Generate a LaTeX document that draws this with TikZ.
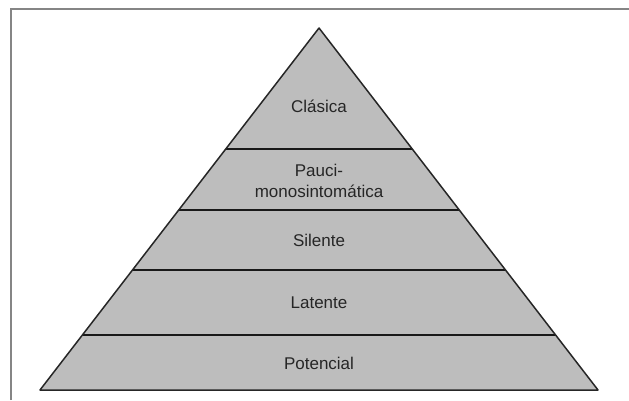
\documentclass[tikz,border=0pt]{standalone}
\usepackage{fontspec}
\setmainfont{Liberation Sans}
\definecolor{pyrfill}{gray}{0.74}
\definecolor{framegray}{gray}{0.52}
\begin{document}
\begin{tikzpicture}[x=1pt,y=-1pt,
  label/.style={font=\fontsize{17pt}{21pt}\selectfont, text=black!85, align=center, inner sep=0pt},
  layerline/.style={line width=2.6pt, black!90},
  outline/.style={line width=1.5pt, black!85, line join=round},
  framestyle/.style={line width=2pt, framegray}]
\useasboundingbox (0,0) rectangle (629,400);
% frame (only left and top edges visible)
\draw[framestyle] (11,400) -- (11,9) -- (629,9);
% pyramid
\coordinate (apex) at (319,28);
\coordinate (bl) at (40,390);
\coordinate (br) at (598,390);
\fill[pyrfill] (apex) -- (bl) -- (br) -- cycle;
% layer lines
\foreach \yy/\nm in {149/a,210/b,270/c,335/d}{
  \pgfmathsetmacro{\dx}{0.770718*(\yy-28)}
  \coordinate (l\nm) at ({319-\dx},\yy);
  \coordinate (r\nm) at ({319+\dx},\yy);
  \draw[layerline] (l\nm) -- (r\nm);
}
\draw[outline] (apex) -- (bl) -- (br) -- cycle;
% labels
\node[label] (clasica) at (319,106) {Clásica};
\node[label] (pauci) at (319,181) {Pauci-\\monosintomática};
\node[label] (silente) at (319,240) {Silente};
\node[label] (latente) at (319,303) {Latente};
\node[label] (potencial) at (319,363) {Potencial};
\end{tikzpicture}
\end{document}
